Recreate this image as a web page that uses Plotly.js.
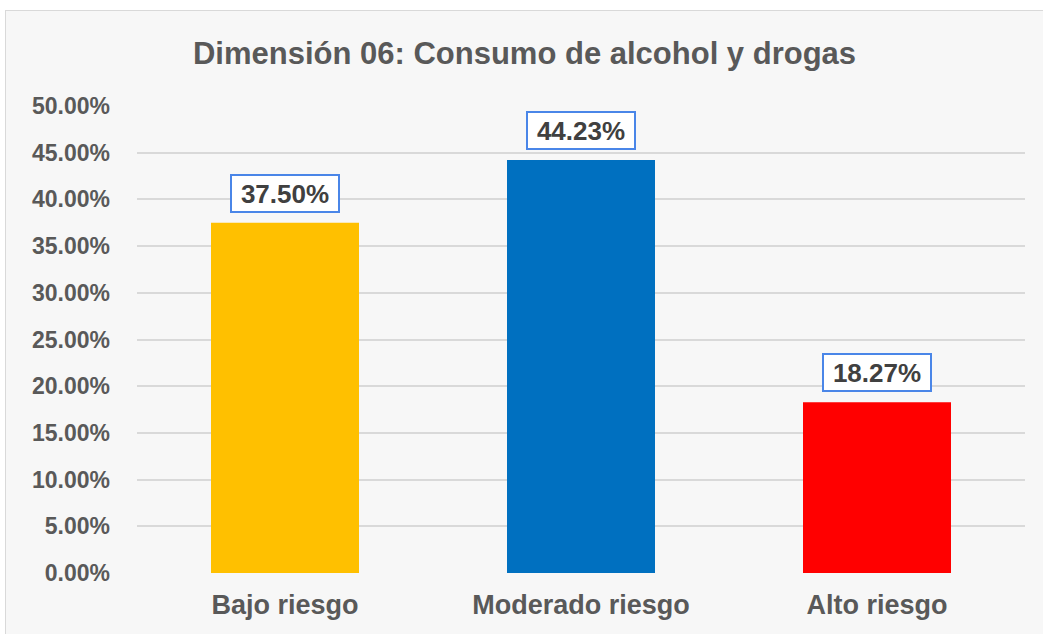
<!DOCTYPE html>
<html><head><meta charset="utf-8">
<script src="https://cdn.plot.ly/plotly-3.0.1.min.js"></script>
<style>
html,body{margin:0;padding:0;background:#fff;width:1043px;height:634px;overflow:hidden;}
#wrap{position:absolute;left:5px;top:10px;width:1037px;height:623px;border-left:1px solid #d9d9d9;border-top:1px solid #d9d9d9;background:#f7f7f7;}
#chart{width:1037px;height:623px;}
</style></head><body>
<div id="wrap"><div id="chart"></div></div>
<script>
const categories = ["Bajo riesgo", "Moderado riesgo", "Alto riesgo"];
const values = [37.50, 44.23, 18.27];
const barColors = ["#ffc000", "#0070c0", "#ff0000"];
const labels = ["37.50%", "44.23%", "18.27%"];

const FONT = 'Liberation Sans, Arial, sans-serif';
const trace = {
  type: 'bar', x: categories, y: values,
  marker: {color: barColors, line: {width: 0}},
  width: 0.5, hoverinfo: 'none'
};
const annotations = categories.map((c, i) => ({
  x: c, y: values[i], xref: 'x', yref: 'y', text: labels[i],
  showarrow: false, yanchor: 'bottom', yshift: 10,
  font: {family: FONT, size: 26, color: '#404040', weight: 'bold'},
  bgcolor: '#ffffff', bordercolor: '#4a86e8', borderwidth: 2, borderpad: 1,
  width: 104, height: 33
}));
const layout = {
  width: 1037, height: 623,
  margin: {l: 131, r: 18, t: 95, b: 61},
  paper_bgcolor: '#f7f7f7', plot_bgcolor: '#f7f7f7',
  title: {text: '<b>Dimensión 06: Consumo de alcohol y drogas</b>', x: 0.5, xanchor: 'center', xref: 'container',
    y: 1 - 42/623, yanchor: 'middle', yref: 'container',
    font: {family: FONT, size: 31, color: '#595959'}},
  xaxis: {tickfont: {family: FONT, size: 27, color: '#595959', weight: 'bold'}, showgrid: false, showline: false, ticks: '', ticklabelstandoff: 13},
  yaxis: {range: [0, 50], dtick: 5, tickformat: '.2f', ticksuffix: '%', gridcolor: '#d9d9d9', gridwidth: 2, zeroline: false, showline: false,
    tickfont: {family: FONT, size: 23, color: '#595959', weight: 'bold'}, ticklabelstandoff: 26},
  annotations: annotations, showlegend: false
};
Plotly.newPlot('chart', [trace], layout, {displayModeBar: false, staticPlot: true});
</script></body></html>
